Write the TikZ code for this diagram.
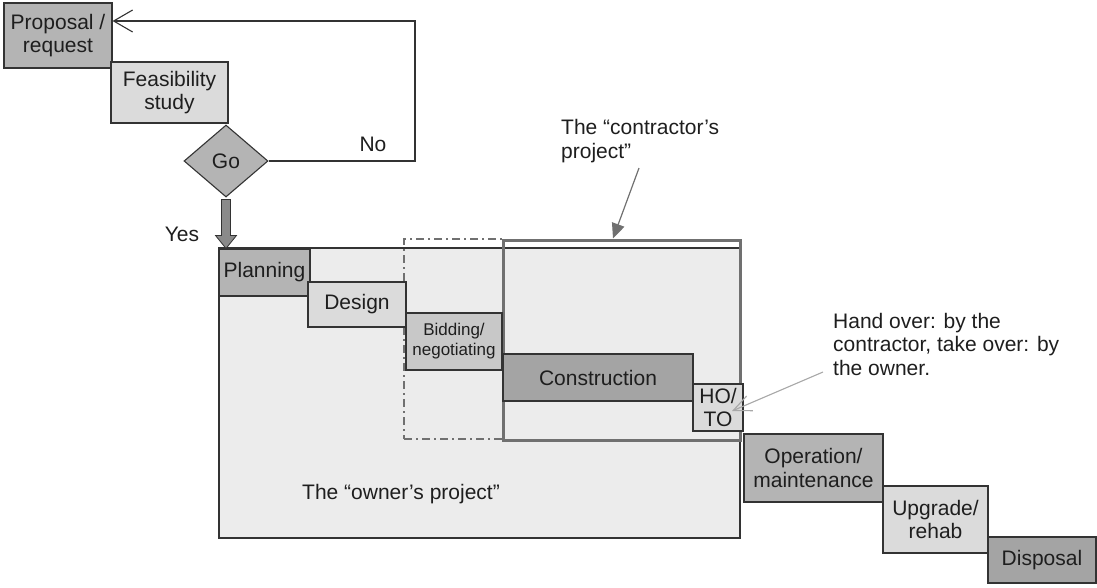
\documentclass[tikz,border=0pt]{standalone}
\usepackage{fontspec}
\setmainfont{Liberation Sans}
\usetikzlibrary{shapes.geometric,arrows.meta,calc}
\definecolor{edgecol}{HTML}{333333}
\definecolor{txtcol}{HTML}{1E1E1E}
\definecolor{darkfill}{HTML}{A4A4A4}
\definecolor{midfill}{HTML}{B4B4B4}
\definecolor{bidfill}{HTML}{C8C8C8}
\definecolor{lightfill}{HTML}{DBDBDB}
\definecolor{ownerfill}{HTML}{ECECEC}
\definecolor{framecol}{HTML}{707070}
\definecolor{fatfill}{HTML}{8A8A8A}
\definecolor{pointercol}{HTML}{A8A8A8}
\tikzset{
  stage/.style={draw=edgecol, line width=1.1pt, inner sep=0pt, align=center,
    text=txtcol, font=\fontsize{21}{23.5}\selectfont},
  lbl/.style={text=txtcol, inner sep=0pt, align=left, font=\fontsize{21}{23.5}\selectfont},
  frame/.style={inner sep=0pt, draw=framecol},
}
\begin{document}
\begin{tikzpicture}[x=1pt,y=-1pt]
\useasboundingbox (0,0) rectangle (1097,587);
% the owner's project
\node[draw=edgecol, fill=ownerfill, line width=1.1pt, inner sep=0pt,
  minimum width=521pt, minimum height=290pt] (owner) at (479.5,393) {};
\node[lbl] (ownerlbl) at (401,494) {The “owner’s project”};
% bidding frame and the contractor's project
\node[frame, line width=2.2pt, dash pattern=on 8pt off 4pt on 2pt off 4pt,
  minimum width=99pt, minimum height=200pt] (bidframe) at (453.5,339) {};
\node[frame, line width=3pt, minimum width=237pt, minimum height=200pt] (contr) at (621.5,340) {};

% front end
\node[stage, fill=midfill, minimum width=108pt, minimum height=65pt] (proposal) at (58,35.5) {Proposal /\\request};
\node[stage, fill=lightfill, minimum width=117pt, minimum height=61pt] (feas) at (169.5,92.5) {Feasibility\\study};
\node[stage, diamond, fill=midfill, aspect=1.17, minimum width=84pt, minimum height=72pt] (go) at (226,161) {Go};

% project stages
\node[stage, fill=midfill, minimum width=91pt, minimum height=47pt] (planning) at (264.5,272.5) {Planning};
\node[stage, fill=lightfill, minimum width=98pt, minimum height=45pt] (design) at (357,304.5) {Design};
\node[stage, fill=bidfill, minimum width=96pt, minimum height=57pt,
  font=\fontsize{17}{20}\selectfont] (bidding) at (454,341.5) {Bidding/\\negotiating};
\node[stage, fill=darkfill, minimum width=190pt, minimum height=47pt] (constr) at (598,377.5) {Construction};
\node[stage, fill=lightfill, minimum width=50pt, minimum height=47pt] (hoto) at (718,407.5) {HO/\\TO};
\node[stage, fill=midfill, minimum width=139pt, minimum height=68pt] (operation) at (813.5,468) {Operation/\\maintenance};
\node[stage, fill=lightfill, minimum width=105pt, minimum height=67pt] (upgrade) at (935.5,519.5) {Upgrade/\\rehab};
\node[stage, fill=darkfill, minimum width=108pt, minimum height=46pt] (disposal) at (1042,560) {Disposal};

% no: back to the proposal
\coordinate (back) at (415,21);
\draw[edgecol, line width=1.1pt, -{Straight Barb[length=19pt,width=22pt,line width=1.1pt]}]
  (go.east) -- (go.east -| back) -- (back) -- (back -| proposal.east);
\node[lbl] (nolbl) at (373,144) {No};

% yes: on to planning
\coordinate (yend) at (go.south |- planning.north);
\draw[fill=fatfill, draw=edgecol, line width=0.8pt]
  ($(go.south)+(-4.5,2)$) -- ($(yend)+(-4.5,-13)$) -- ($(yend)+(-10.5,-13)$) -- (yend)
  -- ($(yend)+(10.5,-13)$) -- ($(yend)+(4.5,-13)$) -- ($(go.south)+(4.5,2)$) -- cycle;
\node[lbl] (yeslbl) at (182,234) {Yes};

% labels with pointers
\node[lbl, anchor=west] (contrlbl) at (561,141) {The “contractor’s\\project”};
\coordinate (contrtail) at (639,168);
\draw[framecol, line width=1.2pt, -{Triangle[length=15pt,width=13pt]}]
  (contrtail) -- ($(contr.north)+(-8.5,0)$);

\node[lbl, anchor=west] (hotext) at (833,344) {Hand over: by the\\contractor, take over: by\\the owner.};
\coordinate (hotail) at (823,372);
\draw[pointercol, line width=1.1pt, -{Straight Barb[length=18pt,width=16pt,line width=1.1pt]}]
  (hotail) -- ($(hoto.center)+(14,3.5)$);
\end{tikzpicture}
\end{document}
